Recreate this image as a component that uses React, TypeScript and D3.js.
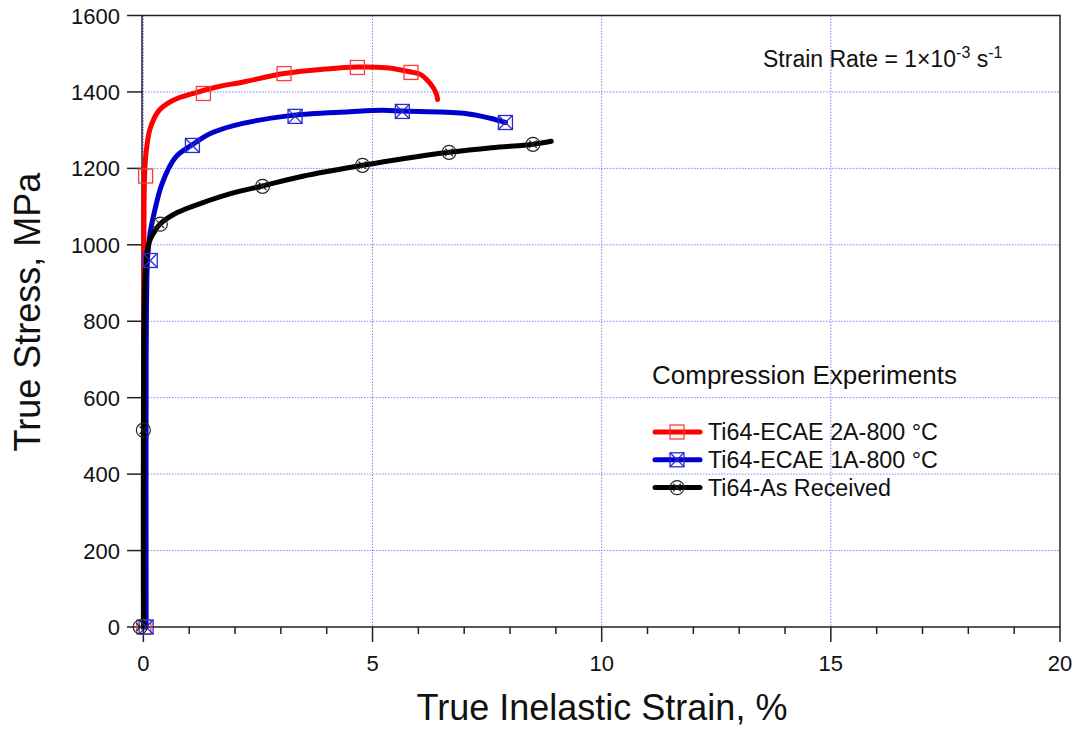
import React from "react";
import * as d3 from "d3";

const X_TICKS = [0, 5, 10, 15, 20];
const X_MINOR = d3.range(0, 21, 1);
const Y_TICKS = [0, 200, 400, 600, 800, 1000, 1200, 1400, 1600];

const redX = [0.01, 0.01, 0.012, 0.02, 0.04, 0.08, 0.15, 0.33, 0.63, 1.17, 1.6, 2.18, 3.07, 4.0, 4.67, 5.3, 5.84, 6.04, 6.26, 6.39, 6.42];
const redY = [0, 600, 1000, 1150, 1215, 1262, 1305, 1350, 1377, 1399, 1413, 1426, 1448, 1460, 1465, 1463, 1452, 1446, 1422, 1396, 1380];

const blueX = [0.06, 0.06, 0.07, 0.09, 0.14, 0.22, 0.41, 0.7, 1.07, 1.46, 1.97, 3.2, 4.5, 5.2, 5.65, 6.98, 7.57, 7.9];
const blueY = [0, 700, 860, 960, 1025, 1075, 1161, 1229, 1262, 1291, 1312, 1338, 1348, 1352, 1350, 1344, 1331, 1320];

const blackX = [0, 0, 0.02, 0.06, 0.12, 0.22, 0.37, 0.75, 1.24, 1.9, 2.6, 3.5, 4.78, 5.7, 6.67, 7.6, 8.5, 8.9];
const blackY = [0, 500, 850, 965, 1005, 1030, 1055, 1085, 1108, 1134, 1154, 1180, 1208, 1226, 1242, 1254, 1263, 1271];

const redMarkX = [0.01, 0.05, 1.31, 3.07, 4.67, 5.84];
const redMarkY = [0, 1180, 1396, 1448, 1464, 1451];
const blueMarkX = [0.06, 0.15, 1.07, 3.31, 5.65, 7.9];
const blueMarkY = [0, 959, 1260, 1336, 1349, 1320];
const blackMarkX = [-0.07, 0.0, 0.37, 2.6, 4.78, 6.67, 8.5];
const blackMarkY = [0, 515, 1054, 1153, 1208, 1242, 1263];

const SERIES = [
  { name: "Ti64-ECAE 2A-800 °C", color: "#ff0000", mcolor: "#ff3b3b", marker: "square", xs: redX, ys: redY, mx: redMarkX, my: redMarkY },
  { name: "Ti64-ECAE 1A-800 °C", color: "#0000cc", mcolor: "#2a2ad0", marker: "boxx", xs: blueX, ys: blueY, mx: blueMarkX, my: blueMarkY },
  { name: "Ti64-As Received", color: "#000000", mcolor: "#222222", marker: "circlex", xs: blackX, ys: blackY, mx: blackMarkX, my: blackMarkY },
];

const FONT = "Arial, 'Liberation Sans', Helvetica, sans-serif";

function Marker({ kind, cx, cy, color }: { kind: string; cx: number; cy: number; color: string }) {
  const h = 7;
  if (kind === "square") {
    return <rect x={cx - h} y={cy - h} width={2 * h} height={2 * h} fill="none" stroke={color} strokeWidth={1.3} />;
  }
  if (kind === "boxx") {
    return (
      <g stroke={color} strokeWidth={1.3} fill="none">
        <rect x={cx - h} y={cy - h} width={2 * h} height={2 * h} />
        <line x1={cx - h} y1={cy - h} x2={cx + h} y2={cy + h} />
        <line x1={cx - h} y1={cy + h} x2={cx + h} y2={cy - h} />
      </g>
    );
  }
  const r = 7;
  const d = r * 0.55;
  return (
    <g stroke={color} strokeWidth={1.2} fill="none">
      <circle cx={cx} cy={cy} r={r} />
      <line x1={cx - d} y1={cy - d} x2={cx + d} y2={cy + d} />
      <line x1={cx - d} y1={cy + d} x2={cx + d} y2={cy - d} />
    </g>
  );
}

export default function App() {
  const W = 1077, H = 732;
  const x = d3.scaleLinear().domain([-0.03, 20]).range([142, 1060]);
  const y = d3.scaleLinear().domain([0, 1600]).range([627, 15.5]);
  const x0 = x.range()[0], x1 = x.range()[1];
  const yb = y.range()[0], yt = y.range()[1];
  const line = d3
    .line<[number, number]>()
    .x((d) => x(d[0]))
    .y((d) => y(d[1]))
    .curve(d3.curveCatmullRom.alpha(0.5));

  return (
    <svg width={W} height={H} style={{ position: "absolute", left: 0, top: 0, background: "#fff" }} fontFamily={FONT}>
      <rect x={0} y={0} width={W} height={H} fill="#fff" />
      {/* grid */}
      <g stroke="#8080ff" strokeWidth={1} strokeDasharray="1.5,1.5">
        {X_TICKS.filter((t) => t < 20).map((t) => (
          <line key={"gx" + t} x1={x(t)} x2={x(t)} y1={yt} y2={yb} />
        ))}
        {Y_TICKS.filter((t) => t > 0 && t < 1600).map((t) => (
          <line key={"gy" + t} x1={x0} x2={x1} y1={y(t)} y2={y(t)} />
        ))}
      </g>
      {/* frame */}
      <rect x={x0} y={yt} width={x1 - x0} height={yb - yt} fill="none" stroke="#222" strokeWidth={1.5} />
      {/* ticks */}
      <g stroke="#222" strokeWidth={1.5}>
        {Y_TICKS.map((t) => (
          <line key={"yt" + t} x1={x0 - 15} x2={x0} y1={y(t)} y2={y(t)} />
        ))}
        {X_MINOR.map((t) => (
          <line key={"xm" + t} x1={x(t)} x2={x(t)} y1={yb} y2={yb + (t % 5 === 0 ? 15 : 7)} />
        ))}
      </g>
      <g fontSize={22} fill="#111">
        {Y_TICKS.map((t) => (
          <text key={"yl" + t} x={x0 - 22} y={y(t) + 8} textAnchor="end">
            {t}
          </text>
        ))}
        {X_TICKS.map((t) => (
          <text key={"xl" + t} x={x(t)} y={671} textAnchor="middle">
            {t}
          </text>
        ))}
      </g>
      {/* axis titles */}
      <text x={602} y={720} fontSize={36} textAnchor="middle" fill="#111">
        True Inelastic Strain, %
      </text>
      <text transform="translate(40,312) rotate(-90)" fontSize={36} textAnchor="middle" fill="#111">
        True Stress, MPa
      </text>
      {/* curves */}
      {SERIES.map((s) => (
        <path
          key={s.name}
          d={line(s.xs.map((v, i) => [v, s.ys[i]] as [number, number])) || ""}
          fill="none"
          stroke={s.color}
          strokeWidth={5}
          strokeLinejoin="round"
          strokeLinecap="round"
        />
      ))}
      {SERIES.map((s) =>
        s.mx.map((v, i) => <Marker key={s.name + i} kind={s.marker} cx={x(v)} cy={y(s.my[i])} color={s.mcolor} />)
      )}
      {/* annotation */}
      <text x={763} y={67} fontSize={23} fill="#111">
        Strain Rate = 1×10
        <tspan fontSize={16} dy={-9}>-3</tspan>
        <tspan dy={9}> s</tspan>
        <tspan fontSize={16} dy={-9}>-1</tspan>
      </text>
      {/* legend */}
      <text x={652} y={384} fontSize={26} fill="#111">
        Compression Experiments
      </text>
      {SERIES.map((s, i) => {
        const cy = 432 + i * 27.8;
        return (
          <g key={"lg" + i}>
            <line x1={655} x2={700} y1={cy} y2={cy} stroke={s.color} strokeWidth={5} strokeLinecap="round" />
            <Marker kind={s.marker} cx={677} cy={cy} color={s.mcolor} />
            <text x={708} y={cy + 8} fontSize={23.3} fill="#111">
              {s.name}
            </text>
          </g>
        );
      })}
    </svg>
  );
}
